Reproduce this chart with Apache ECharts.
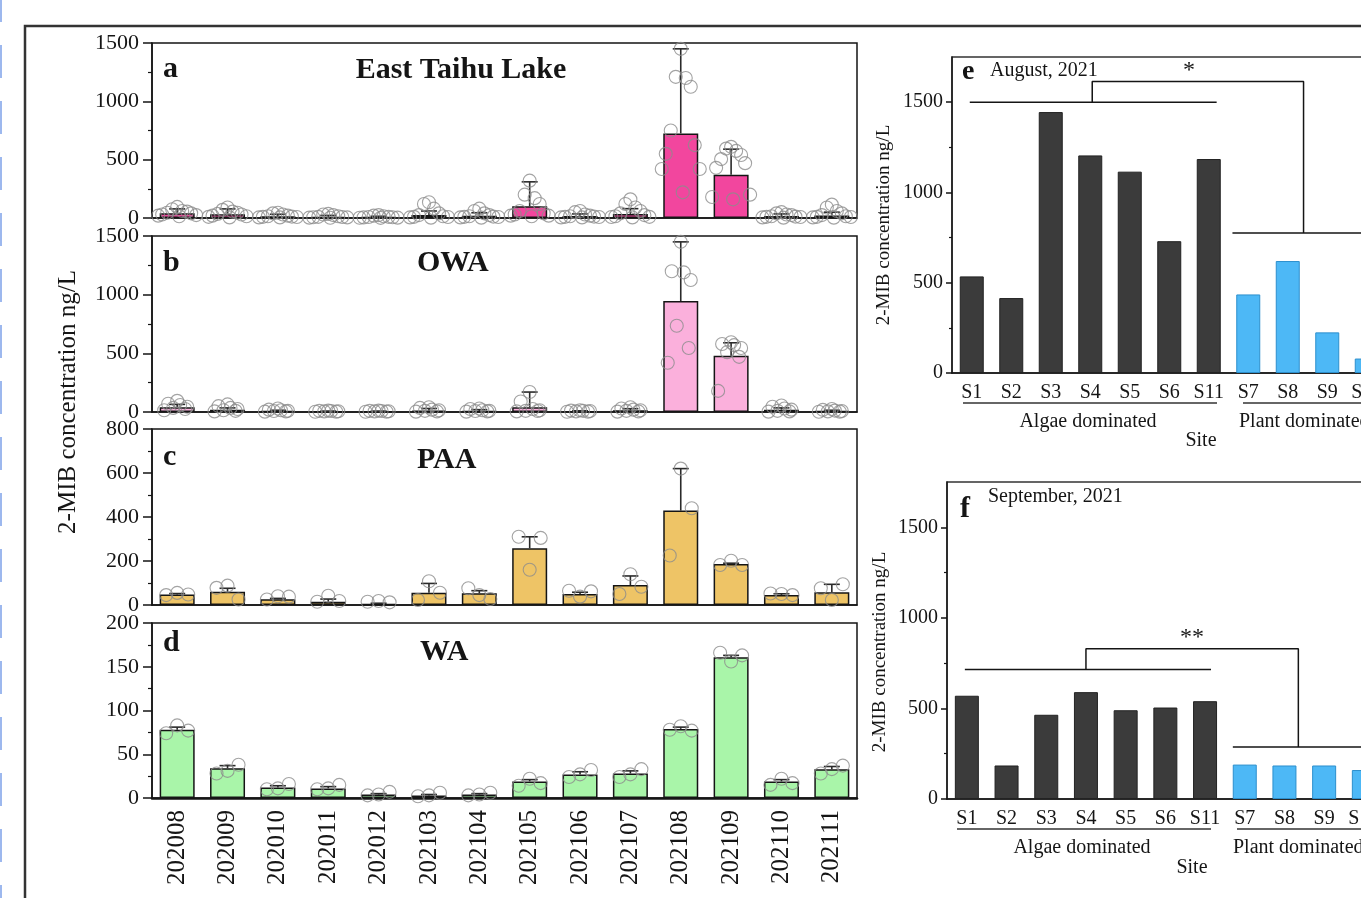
<!DOCTYPE html>
<html>
<head>
<meta charset="utf-8">
<script src="https://cdn.jsdelivr.net/npm/echarts@6/dist/echarts.min.js"></script>
<style>
  html, body { margin: 0; padding: 0; background: #fff; }
  #chart { width: 1361px; height: 898px; }
</style>
</head>
<body>
<div id="chart"></div>
<script>
// ---- data ----
const months = ['202008', '202009', '202010', '202011', '202012', '202103', '202104',
  '202105', '202106', '202107', '202108', '202109', '202110', '202111'];

// a: East Taihu Lake
const meanA = [40, 32, 15, 10, 8, 25, 20, 100, 18, 35, 725, 370, 18, 22];
const errA = [78, 78, 32, 22, 15, 60, 45, 310, 35, 80, 1450, 590, 35, 50];
const ptsA = [
  [95, 75, 60, 55, 45, 40, 30, 25, 20, 15],
  [90, 70, 55, 45, 35, 30, 20, 15, 10, 5],
  [45, 40, 30, 20, 15, 12, 10, 8, 5, 5],
  [35, 30, 25, 15, 10, 8, 6, 5, 3, 2],
  [25, 20, 15, 10, 8, 6, 5, 3, 2, 1],
  [135, 120, 80, 40, 25, 15, 10, 8, 5, 3],
  [80, 60, 40, 25, 15, 12, 10, 8, 5, 3],
  [320, 200, 170, 120, 60, 40, 30, 20, 20, 15],
  [60, 50, 30, 20, 15, 12, 10, 8, 5, 5],
  [160, 120, 90, 60, 40, 25, 15, 10, 8, 5],
  [1450, 1210, 1200, 1125, 750, 625, 550, 420, 420, 220],
  [610, 595, 575, 540, 505, 470, 430, 200, 180, 160],
  [50, 40, 30, 25, 15, 12, 10, 8, 5, 3],
  [115, 90, 60, 40, 25, 15, 10, 8, 5, 3]
];

// b: OWA
const meanB = [40, 20, 8, 5, 5, 12, 8, 40, 6, 15, 945, 480, 20, 8];
const errB = [65, 35, 15, 8, 8, 30, 20, 170, 10, 28, 1450, 590, 35, 15];
const ptsB = [
  [95, 70, 60, 45, 35, 25, 15],
  [65, 50, 35, 25, 15, 10, 5],
  [30, 20, 15, 10, 8, 5, 3],
  [12, 10, 8, 6, 5, 3, 2],
  [12, 10, 8, 6, 5, 3, 2],
  [40, 35, 20, 15, 10, 5, 3],
  [30, 25, 15, 10, 8, 5, 3],
  [170, 90, 25, 15, 10, 8, 5],
  [15, 12, 10, 8, 5, 3, 2],
  [40, 30, 20, 15, 10, 5, 3],
  [1450, 1200, 1190, 1125, 735, 545, 420],
  [595, 580, 570, 545, 510, 470, 180],
  [55, 45, 30, 20, 10, 5, 3],
  [25, 18, 12, 8, 5, 3, 2]
];

// c: PAA
const meanC = [48, 60, 26, 15, 5, 56, 53, 258, 50, 91, 429, 186, 45, 58];
const errC = [52, 76, 30, 27, 8, 98, 65, 310, 58, 132, 620, 190, 51, 94];
const ptsC = [
  [45, 55, 48], [78, 88, 25], [25, 40, 38], [15, 42, 18], [15, 18, 12],
  [23, 108, 56], [76, 45, 27], [310, 160, 305], [65, 38, 62], [50, 140, 83],
  [225, 620, 440], [182, 201, 182], [52, 50, 45], [76, 23, 94]
];

// d: WA
const meanD = [78, 34, 12, 11, 4, 3, 4, 19, 27, 28, 79, 161, 19, 33];
const errD = [81, 37, 14, 13, 5, 4, 5, 21, 30, 31, 81, 163, 21, 36];
const ptsD = [
  [74, 83, 77], [28, 31, 38], [10, 11, 16], [10, 11, 15], [3, 4, 7],
  [2, 3, 6], [3, 4, 6], [14, 22, 17], [24, 27, 32], [24, 27, 33],
  [78, 82, 77], [166, 156, 163], [15, 22, 17], [28, 33, 37]
];

// e / f: sites
const sites = ['S1', 'S2', 'S3', 'S4', 'S5', 'S6', 'S11', 'S7', 'S8', 'S9', 'S10'];
const siteGroup = ['algae', 'algae', 'algae', 'algae', 'algae', 'algae', 'algae',
  'plant', 'plant', 'plant', 'plant'];
const valsE = [535, 415, 1445, 1205, 1115, 730, 1185, 435, 620, 225, 80];
const valsF = [570, 185, 465, 590, 490, 505, 540, 190, 185, 185, 160];
// significance brackets, x in site index units
const bracketE = [
  [[-0.05, 1500], [6.2, 1500]],
  [[3.05, 1500], [3.05, 1615], [8.4, 1615], [8.4, 775]],
  [[6.6, 775], [10.6, 775]]
];
const bracketF = [
  [[-0.05, 715], [6.15, 715]],
  [[3.0, 715], [3.0, 830], [8.35, 830], [8.35, 287]],
  [[6.7, 287], [10.6, 287]]
];

// ---- layout / style ----
const FONT = "'Liberation Serif', 'Times New Roman', serif";
const INK = '#151515';
// horizontal scatter spread (px) by point count
const JIT = {
  10: [0, -5, 5, 10, -10, 14, -15, 19, -19, 2],
  7: [0, -9, 3, 10, -4, 8, -13],
  3: [-11, 0, 11]
};
const plain = v => String(v);

const leftPanels = [
  { title: 'East Taihu Lake', letter: 'a', max: 1500, interval: 500, color: '#F2469E',
    mean: meanA, err: errA, pts: ptsA, top: 43, height: 175 },
  { title: 'OWA', letter: 'b', max: 1500, interval: 500, color: '#FBB0DC',
    mean: meanB, err: errB, pts: ptsB, top: 236, height: 176 },
  { title: 'PAA', letter: 'c', max: 800, interval: 200, color: '#EEC466',
    mean: meanC, err: errC, pts: ptsC, top: 429, height: 176 },
  { title: 'WA', letter: 'd', max: 200, interval: 50, color: '#A9F5A9',
    mean: meanD, err: errD, pts: ptsD, top: 623, height: 175 }
];

const grids = [], xAxes = [], yAxes = [], series = [];

function errorBar(params, api) {
  const x = api.value(0);
  const p0 = api.coord([x, api.value(1)]);
  const p1 = api.coord([x, api.value(2)]);
  const st = { stroke: '#2a2a2a', lineWidth: 1.6 };
  return {
    type: 'group',
    children: [
      { type: 'line', shape: { x1: p0[0], y1: p0[1], x2: p1[0], y2: p1[1] }, style: st },
      { type: 'line', shape: { x1: p1[0] - 8, y1: p1[1], x2: p1[0] + 8, y2: p1[1] }, style: st }
    ]
  };
}

leftPanels.forEach((p, k) => {
  grids.push({ left: 152, width: 705, top: p.top, height: p.height, show: true,
    borderColor: INK, borderWidth: 1.5, outerBoundsMode: 'none' });
  xAxes.push({
    type: 'category', gridIndex: k, data: months,
    axisLine: { lineStyle: { color: INK, width: k === 3 ? 2.5 : 1.5 } },
    axisTick: { alignWithLabel: true, length: 7, lineStyle: { color: INK, width: 1.5 } },
    axisLabel: { show: k === 3, interval: 0, rotate: 90, fontSize: 25, fontFamily: FONT,
      color: INK, margin: 12 }
  });
  yAxes.push({
    type: 'value', gridIndex: k, min: 0, max: p.max, interval: p.interval,
    axisLine: { show: true, onZero: false, lineStyle: { color: INK, width: 1.5 } },
    axisTick: { show: true, length: 9, lineStyle: { color: INK, width: 1.5 } },
    minorTick: { show: true, splitNumber: 2, length: 4, lineStyle: { color: INK, width: 1.2 } },
    splitLine: { show: false },
    axisLabel: { fontSize: 22, fontFamily: FONT, color: INK, margin: 13, formatter: plain }
  });
  series.push({
    type: 'bar', xAxisIndex: k, yAxisIndex: k, data: p.mean, barWidth: 35, z: 2,
    itemStyle: { color: p.color, borderColor: INK, borderWidth: 1.5 }, animation: false
  });
  series.push({
    type: 'custom', xAxisIndex: k, yAxisIndex: k, renderItem: errorBar, z: 3,
    encode: { x: 0, y: [1, 2] },
    data: p.mean.map((m, i) => [i, m, p.err[i]]), animation: false
  });
  const pts = [];
  p.pts.forEach((arr, i) => {
    const jit = JIT[arr.length];
    arr.forEach((v, j) => pts.push({ value: [i, v], symbolOffset: [jit[j], 0] }));
  });
  series.push({
    type: 'scatter', xAxisIndex: k, yAxisIndex: k, data: pts, symbol: 'circle',
    symbolSize: 13, z: 4, silent: true, animation: false,
    itemStyle: { color: 'rgba(255,255,255,0)', borderColor: '#8c8c8c', borderWidth: 1.1 }
  });
});

const rightPanels = [
  { vals: valsE, brackets: bracketE, left: 952, top: 57, height: 316, band: 39.5 },
  { vals: valsF, brackets: bracketF, left: 947, top: 482, height: 317, band: 39.7 }
];

rightPanels.forEach((p, r) => {
  const g = 4 + r;
  grids.push({ left: p.left, top: p.top, height: p.height, width: p.band * sites.length,
    show: true, borderColor: '#333', borderWidth: 1.3, outerBoundsMode: 'none' });
  const xi = xAxes.length;
  xAxes.push({
    type: 'category', gridIndex: g, data: sites, position: 'bottom',
    axisLine: { onZero: false, lineStyle: { color: INK, width: 1.5 } },
    axisTick: { alignWithLabel: true, length: 6, lineStyle: { color: INK, width: 1.5 } },
    axisLabel: { interval: 0, fontSize: 20, fontFamily: FONT, color: INK, margin: 10 }
  });
  xAxes.push({
    type: 'category', gridIndex: g, data: sites, position: 'bottom',
    axisLine: { show: false, onZero: false },
    axisTick: { alignWithLabel: false, interval: 0, length: 3, lineStyle: { color: INK, width: 1.2 } },
    axisLabel: { show: false }
  });
  xAxes.push({ type: 'value', gridIndex: g, min: -0.5, max: sites.length - 0.5, show: false });
  yAxes.push({
    type: 'value', gridIndex: g, min: 0, max: 1750, interval: 500,
    axisLine: { show: true, onZero: false, lineStyle: { color: INK, width: 1.5 } },
    axisTick: { show: true, length: 6, customValues: [0, 500, 1000, 1500],
      lineStyle: { color: INK, width: 1.5 } },
    minorTick: { show: true, splitNumber: 2, length: 3, lineStyle: { color: INK, width: 1.2 } },
    splitLine: { show: false },
    axisLabel: { fontSize: 20, fontFamily: FONT, color: INK, margin: 9, formatter: plain,
      customValues: [0, 500, 1000, 1500] }
  });
  series.push({
    type: 'bar', xAxisIndex: xi, yAxisIndex: g, barWidth: 24, animation: false,
    data: p.vals.map((v, i) => ({
      value: v,
      itemStyle: siteGroup[i] === 'algae'
        ? { color: '#3b3b3b', borderColor: '#222', borderWidth: 1 }
        : { color: '#4DB8F6', borderColor: '#2c8fcd', borderWidth: 1 }
    }))
  });
  p.brackets.forEach(seg => series.push({
    type: 'line', xAxisIndex: xi + 2, yAxisIndex: g, data: seg, symbol: 'none',
    lineStyle: { color: INK, width: 1.5 }, silent: true, z: 5, animation: false
  }));
});

function txt(text, x, y, size, opts) {
  return Object.assign({
    type: 'text', x: x, y: y, silent: true,
    style: Object.assign({ text: text, font: size + 'px ' + FONT, fill: INK,
      align: 'left', verticalAlign: 'middle' }, (opts && opts.style) || {})
  }, (opts && opts.el) || {});
}
function hline(x1, x2, y, color) {
  return { type: 'line', silent: true, shape: { x1: x1, y1: y, x2: x2, y2: y },
    style: { stroke: color || '#333', lineWidth: 1.3 } };
}
const bold = s => ({ style: { font: 'bold ' + s + 'px ' + FONT } });

const graphics = [
  // page decorations
  { type: 'line', silent: true, shape: { x1: 1, y1: 0, x2: 1, y2: 898 },
    style: { stroke: '#9db8ee', lineWidth: 2, lineDash: [33, 23], lineDashOffset: 11 } },
  { type: 'polyline', silent: true, shape: { points: [[25, 900], [25, 26], [1365, 26]] },
    style: { stroke: '#333', lineWidth: 2.5, fill: null } },
  // left block
  txt('2-MIB concentration ng/L', 68, 402, 25,
    { style: { align: 'center' }, el: { rotation: Math.PI / 2 } }),
  txt('a', 163, 69, 30, bold(30)),
  txt('East Taihu Lake', 461, 70, 30, { style: { font: 'bold 30px ' + FONT, align: 'center' } }),
  txt('b', 163, 263, 30, bold(30)),
  txt('OWA', 417, 263, 30, bold(30)),
  txt('c', 163, 457, 30, bold(30)),
  txt('PAA', 417, 460, 30, bold(30)),
  txt('d', 163, 643, 30, bold(30)),
  txt('WA', 420, 652, 30, bold(30)),
  // panel e
  txt('2-MIB concentration ng/L', 884, 225, 19,
    { style: { align: 'center' }, el: { rotation: Math.PI / 2 } }),
  txt('e', 962, 72, 28, bold(28)),
  txt('August, 2021', 990, 71, 20),
  txt('*', 1189, 71, 24, { style: { align: 'center' } }),
  hline(963, 1217, 403), hline(1243, 1370, 403),
  txt('Algae dominated', 1088, 422, 20, { style: { align: 'center' } }),
  txt('Plant dominated', 1239, 422, 20),
  txt('Site', 1201, 441, 20, { style: { align: 'center' } }),
  // panel f
  txt('2-MIB concentration ng/L', 880, 652, 19,
    { style: { align: 'center' }, el: { rotation: Math.PI / 2 } }),
  txt('f', 960, 509, 30, bold(30)),
  txt('September, 2021', 988, 497, 20),
  txt('**', 1192, 638, 24, { style: { align: 'center' } }),
  hline(957, 1211, 829), hline(1237, 1370, 829),
  txt('Algae dominated', 1082, 848, 20, { style: { align: 'center' } }),
  txt('Plant dominated', 1233, 848, 20),
  txt('Site', 1192, 868, 20, { style: { align: 'center' } })
];

const chart = echarts.init(document.getElementById('chart'));
chart.setOption({
  backgroundColor: '#fff',
  animation: false,
  grid: grids,
  xAxis: xAxes,
  yAxis: yAxes,
  series: series,
  graphic: graphics
});
</script>
</body>
</html>
